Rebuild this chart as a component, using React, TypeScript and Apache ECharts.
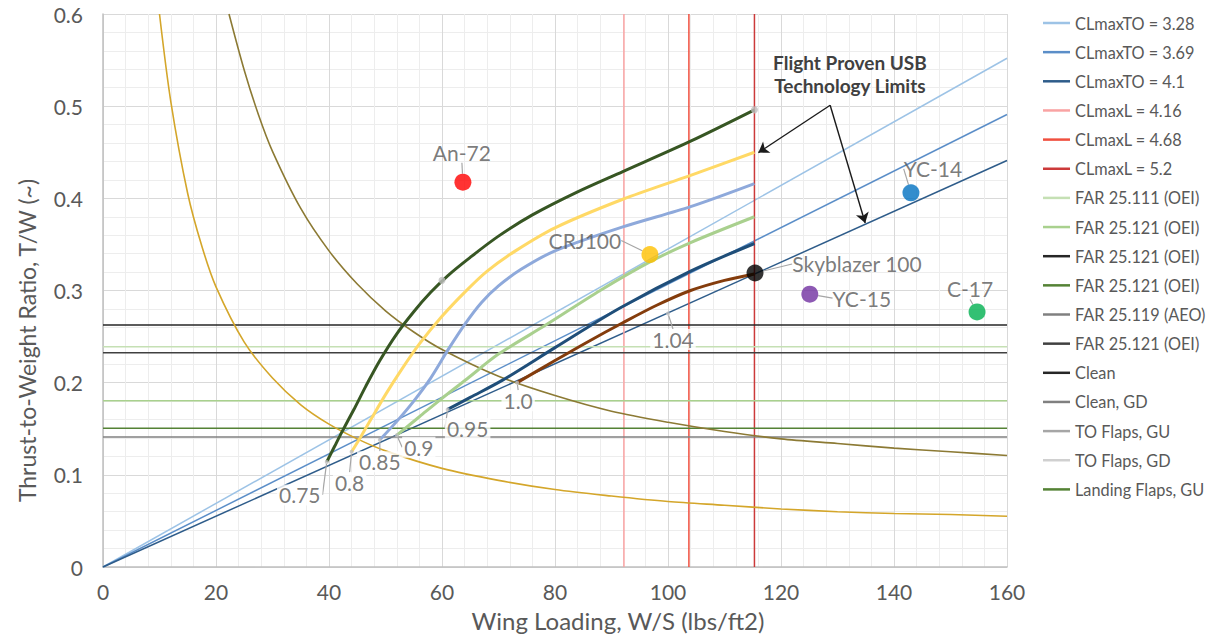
import React, { useEffect, useRef } from "react";
import * as echarts from "echarts";

// ---------- data ----------
const toNames = ["CLmaxTO = 3.28", "CLmaxTO = 3.69", "CLmaxTO = 4.1"];
const toEndWS = 160;
const toEndTW = [0.552, 0.491, 0.441];

const landNames = ["CLmaxL = 4.16", "CLmaxL = 4.68", "CLmaxL = 5.2"];
const landWS = [92.2, 103.7, 115.3];

const farNames = [
  "FAR 25.111 (OEI)",
  "FAR 25.121 (OEI)#1",
  "FAR 25.121 (OEI)#2",
  "FAR 25.121 (OEI)#3",
  "FAR 25.119 (AEO)",
  "FAR 25.121 (OEI)#4",
];
const farTW = [0.239, 0.1805, 0.2625, 0.1505, 0.141, 0.2325];

const cleanCurve = [
  [22.3, 0.6], [25, 0.539], [27.5, 0.491], [30, 0.451], [35, 0.389], [40, 0.343],
  [45, 0.307], [50, 0.278], [55, 0.255], [60, 0.236], [70, 0.207], [80, 0.186],
  [90, 0.169], [100, 0.157], [110, 0.147], [120, 0.139], [130, 0.134], [140, 0.129],
  [150, 0.125], [160, 0.121],
];
const cleanGDCurve = [
  [10, 0.6], [12, 0.505], [15, 0.405], [17.5, 0.348], [20, 0.304], [25, 0.244],
  [30, 0.205], [35, 0.176], [40, 0.155], [45, 0.139], [50, 0.126], [60, 0.107],
  [70, 0.094], [80, 0.084], [90, 0.077], [100, 0.071], [110, 0.067], [120, 0.063],
  [130, 0.06], [140, 0.058], [150, 0.057], [160, 0.055],
];
const landingGUCurve = [
  [39.6, 0.114], [41, 0.131], [42.5, 0.149], [44.5, 0.172], [46.5, 0.196], [49, 0.224],
  [52, 0.253], [55, 0.277], [58, 0.298], [61, 0.316], [65, 0.336], [70, 0.359],
  [76, 0.382], [84, 0.407], [92, 0.429], [104, 0.462], [115.3, 0.496],
];
const toFlapsGUCurve = [
  [44, 0.125], [45.5, 0.14], [47.5, 0.161], [50, 0.187], [52.6, 0.212], [56, 0.242],
  [60, 0.272], [64, 0.298], [68, 0.321], [73, 0.343], [80, 0.368], [92, 0.399],
  [104, 0.425], [115.3, 0.45],
];
const toFlapsGDCurve = [
  [49, 0.138], [52, 0.158], [55, 0.18], [58, 0.205], [61, 0.235], [64, 0.263],
  [67, 0.287], [70, 0.305], [74, 0.323], [80, 0.343], [92, 0.369], [104, 0.391], [115.3, 0.416],
];
const m090Curve = [
  [52, 0.143], [56, 0.163], [60, 0.183], [64.4, 0.204], [70, 0.231], [78.5, 0.263],
  [88, 0.3], [96.8, 0.331], [104, 0.352], [115.3, 0.38],
];
const m095Curve = [
  [61, 0.171], [65, 0.184], [70.8, 0.203], [80, 0.238], [91.5, 0.281], [104, 0.321], [115.3, 0.351],
];
const m100Curve = [
  [73.3, 0.2], [80, 0.224], [86, 0.245], [92, 0.265], [98, 0.284], [104, 0.3], [110, 0.311], [115.3, 0.318],
];
const landingMarkers = [[60, 0.311], [115.3, 0.496]];

const machLabels = ["0.75", "0.8", "0.85", "0.9", "0.95", "1.0", "1.04"];
const machWS = [39.6, 44, 49, 52, 61, 73.3, 100];
const machTW = [0.114, 0.125, 0.138, 0.143, 0.171, 0.2, 0.275];

const aircraftNames = ["An-72", "CRJ100", "Skyblazer 100", "YC-15", "YC-14", "C-17"];
const aircraftWS = [63.7, 96.8, 115.4, 125.1, 143.0, 154.7];
const aircraftTW = [0.4175, 0.339, 0.319, 0.296, 0.406, 0.2767];

const annotationText = "Flight Proven USB\nTechnology Limits";
const arrowFrom = [128.7, 0.501];
const arrowTo = [[116.0, 0.4496], [134.9, 0.3733]];
const annotationAt = [132.2, 0.535];

// ---------- styles ----------
const toColors = ["#9DC3E6", "#5B8EC8", "#2E5C8A"];
const landColors = ["#F9A3A3", "#F0503F", "#CC3A3A"];
const farColors = ["#C5E0B4", "#A9D18E", "#262626", "#548235", "#808080", "#404040"];
const curveLegendColors = ["#262626", "#808080", "#A6A6A6", "#D0D0D0", "#548235"];
const aircraftColors = ["#FF0000", "#FFC000", "#000000", "#7030A0", "#0070C0", "#00B050"];
const aircraftLabelOffsets = [[-1, -30], [-65, -14], [102, -9], [52, 4], [22, -24], [-7, -23]];
const machLabelOffsets = [[-27, 33], [-2, 31], [0, 22], [22, 12], [20, 19], [1, 18], [5, 26]];

const FONT = "Lato";
const TXT = "#595959";

export default function App() {
  const ref = useRef<HTMLDivElement>(null);

  useEffect(() => {
    if (!ref.current) return;
    const chart = echarts.init(ref.current, null, { renderer: "svg" });

    const series: any[] = [];

    toNames.forEach((n, i) => {
      series.push({
        name: n, type: "line", symbol: "none", silent: true, z: 2,
        data: [[0, 0], [toEndWS, toEndTW[i]]],
        lineStyle: { color: toColors[i], width: 1.5 },
        itemStyle: { color: toColors[i] },
      });
    });
    landNames.forEach((n, i) => {
      series.push({
        name: n, type: "line", symbol: "none", silent: true, z: 2,
        data: [[landWS[i], 0], [landWS[i], 0.6]],
        lineStyle: { color: landColors[i], width: 1.5 },
        itemStyle: { color: landColors[i] },
      });
    });
    farNames.forEach((n, i) => {
      series.push({
        name: n, type: "line", symbol: "none", silent: true, z: 2,
        data: [[0, farTW[i]], [160, farTW[i]]],
        lineStyle: { color: farColors[i], width: 1.5 },
        itemStyle: { color: farColors[i] },
      });
    });

    const curve = (name: string, data: number[][], color: string, width: number, z = 3) => ({
      name, type: "line", symbol: "none", smooth: 0.3, silent: true, z,
      data, lineStyle: { color, width }, itemStyle: { color },
    });
    series.push(curve("Clean", cleanCurve, "#8C7A34", 1.6));
    series.push(curve("Clean, GD", cleanGDCurve, "#D4A62A", 1.6));
    series.push(curve("TO Flaps, GU", toFlapsGUCurve, "#FFD966", 3));
    series.push(curve("TO Flaps, GD", toFlapsGDCurve, "#8EA9DB", 3));
    series.push(curve("Landing Flaps, GU", landingGUCurve, "#375623", 3));
    series.push(curve("M 0.90", m090Curve, "#A9D08E", 3));
    series.push(curve("M 0.95", m095Curve, "#1F4E79", 3));
    series.push(curve("M 1.00", m100Curve, "#843C0C", 3));

    series.push({
      name: "landing markers", type: "scatter", symbolSize: 7, silent: true, z: 4,
      data: landingMarkers, itemStyle: { color: "#BFBFBF" },
    });

    series.push({
      name: "mach labels", type: "scatter", symbolSize: 4, silent: true, z: 5,
      data: machWS.map((x, i) => ({ value: [x, machTW[i]], name: machLabels[i] })),
      itemStyle: { color: "#BFBFBF" },
      label: {
        show: true, position: "inside", formatter: "{b}",
        fontFamily: FONT, fontSize: 21, color: TXT,
        backgroundColor: "#ffffff", padding: [0, 2],
      },
      labelLayout: (p: any) => ({ dx: machLabelOffsets[p.dataIndex][0], dy: machLabelOffsets[p.dataIndex][1] }),
      labelLine: { show: true, lineStyle: { color: "#A6A6A6", width: 1.2 } },
    });

    series.push({
      name: "aircraft", type: "scatter", symbolSize: 17, silent: true, z: 6,
      data: aircraftWS.map((x, i) => ({
        value: [x, aircraftTW[i]], name: aircraftNames[i],
        itemStyle: { color: aircraftColors[i] },
      })),
      label: {
        show: true, position: "inside", formatter: "{b}",
        fontFamily: FONT, fontSize: 21, color: TXT,
      },
      labelLayout: (p: any) => ({ dx: aircraftLabelOffsets[p.dataIndex][0], dy: aircraftLabelOffsets[p.dataIndex][1] }),
      labelLine: { show: true, lineStyle: { color: "#A6A6A6", width: 1.2 } },
    });

    series.push({
      name: "annotation", type: "line", data: [], silent: true, z: 7,
      markLine: {
        silent: true, animation: false,
        symbol: ["none", "arrow"], symbolSize: 10,
        label: { show: false },
        itemStyle: { color: "#1a1a1a" },
        lineStyle: { color: "#1a1a1a", width: 1.4, type: "solid" },
        data: arrowTo.map((t) => [{ coord: arrowFrom }, { coord: t }]),
      },
      markPoint: {
        silent: true, animation: false,
        data: [{
          coord: annotationAt, symbol: "rect", symbolSize: 1,
          itemStyle: { color: "rgba(0,0,0,0)" },
          label: {
            show: true, position: "inside", formatter: annotationText,
            fontFamily: FONT, fontWeight: "bold", fontSize: 19, lineHeight: 23, color: "#404040",
          },
        }],
      },
    });

    const legendData = [
      ...toNames.map((n, i) => ({ name: n, color: toColors[i] })),
      ...landNames.map((n, i) => ({ name: n, color: landColors[i] })),
      ...farNames.map((n, i) => ({ name: n, color: farColors[i] })),
      ...["Clean", "Clean, GD", "TO Flaps, GU", "TO Flaps, GD", "Landing Flaps, GU"].map((n, i) => ({ name: n, color: curveLegendColors[i] })),
    ].map((d) => ({ name: d.name, icon: "rect", itemStyle: { color: d.color, borderWidth: 0 } }));

    chart.setOption({
      animation: false,
      textStyle: { fontFamily: FONT },
      grid: { left: 103, right: 210, top: 14, bottom: 74, containLabel: false, outerBoundsMode: "none" },
      legend: {
        orient: "vertical", left: 1038, top: 8,
        itemWidth: 27, itemHeight: 2.5, itemGap: 9.15,
        selectedMode: false,
        textStyle: { fontFamily: FONT, fontSize: 16.3, color: TXT, lineHeight: 20 },
        formatter: (n: string) => n.replace(/#\d+$/, ""),
        data: legendData,
      },
      xAxis: {
        type: "value", min: 0, max: 160, interval: 20,
        axisLine: { show: true, onZero: false, lineStyle: { color: "#BFBFBF", width: 1.5 } },
        axisTick: { show: false },
        minorTick: { show: false, splitNumber: 5 },
        splitLine: { show: true, lineStyle: { color: "#D9D9D9", width: 1 } },
        minorSplitLine: { show: true, lineStyle: { color: "#EDEDED", width: 1 } },
        axisLabel: { fontFamily: FONT, fontSize: 21, color: TXT, margin: 14 },
        name: "Wing Loading, W/S (lbs/ft2)", nameLocation: "middle", nameGap: 41,
        nameTextStyle: { fontFamily: FONT, fontSize: 24, color: TXT, padding: [0, 0, 0, 126] },
      },
      yAxis: {
        type: "value", min: 0, max: 0.6, interval: 0.1,
        axisLine: { show: true, onZero: false, lineStyle: { color: "#BFBFBF", width: 1.5 } },
        axisTick: { show: false },
        minorTick: { show: false, splitNumber: 5 },
        splitLine: { show: true, lineStyle: { color: "#D9D9D9", width: 1 } },
        minorSplitLine: { show: true, lineStyle: { color: "#EDEDED", width: 1 } },
        axisLabel: { fontFamily: FONT, fontSize: 21, color: TXT, margin: 20 },
        name: "Thrust-to-Weight Ratio, T/W (~)", nameLocation: "middle", nameGap: 65,
        nameTextStyle: { fontFamily: FONT, fontSize: 23, color: TXT, padding: [0, 100, 0, 0] },
      },
      series,
    });

    return () => chart.dispose();
  }, []);

  return <div ref={ref} style={{ width: 1217, height: 641, marginLeft: -8, marginTop: -8 }} />;
}
